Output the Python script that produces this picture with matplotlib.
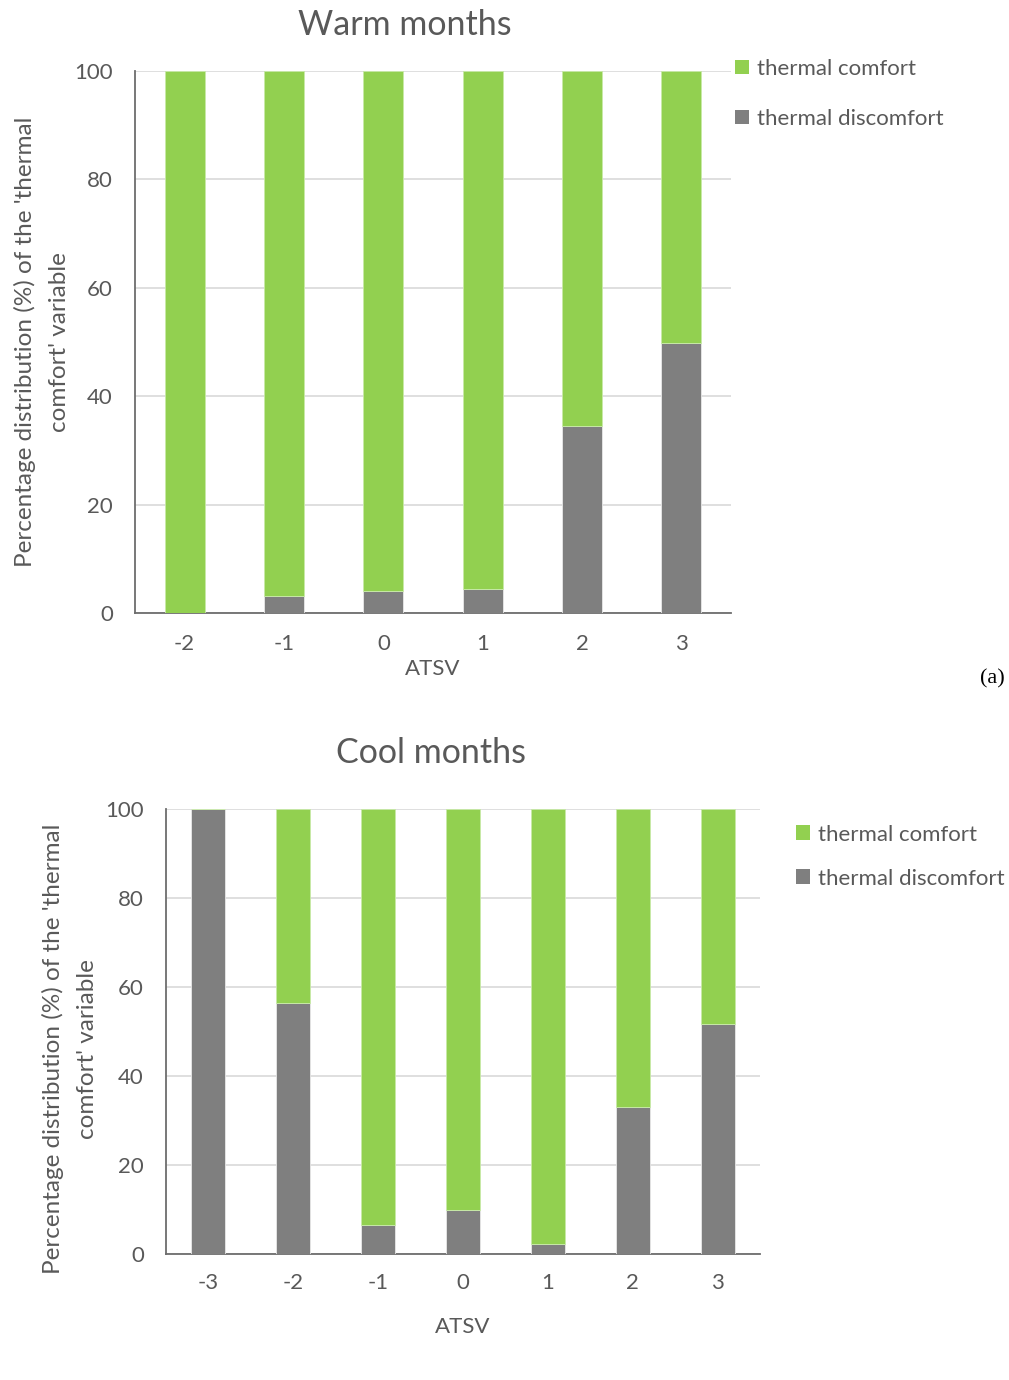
import matplotlib
matplotlib.use("Agg")
import matplotlib.pyplot as plt
from matplotlib.patches import Patch

plt.rcParams['font.family'] = ['Lato', 'DejaVu Sans']

GREEN = '#92D050'
GREY = '#7F7F7F'
TEXT = '#595959'
GRID = '#D9D9D9'

# Warm months
warm_atsv = ['-2', '-1', '0', '1', '2', '3']
warm_discomfort = [0.0, 3.1, 4.1, 4.4, 34.5, 49.8]
warm_comfort = [100 - v for v in warm_discomfort]

# Cool months
cool_atsv = ['-3', '-2', '-1', '0', '1', '2', '3']
cool_discomfort = [100.0, 56.4, 6.5, 9.9, 2.2, 33.0, 51.7]
cool_comfort = [100 - v for v in cool_discomfort]

ylabel = "Percentage distribution (%) of the 'thermal\ncomfort' variable"

fig = plt.figure(figsize=(10.09, 13.8), dpi=100)


def draw(ax, cats, disc, comf, title, title_x, title_pad, legend_anchor,
         legend_spacing, ylab_xy, xlab_y, xtick_pad):
    x = range(len(cats))
    ax.bar(x, disc, width=0.4, color=GREY, edgecolor='#e8e8e8', linewidth=0.6,
           label='thermal discomfort', zorder=3)
    ax.bar(x, comf, bottom=disc, width=0.4, color=GREEN, edgecolor='#c8eaa8',
           linewidth=0.6, label='thermal comfort', zorder=3)
    ax.set_xlim(-0.5, len(cats) - 0.5)
    ax.set_ylim(0, 100)
    ax.set_yticks([0, 20, 40, 60, 80, 100])
    ax.set_xticks(list(x))
    ax.set_xticklabels(cats)
    ax.yaxis.grid(True, color=GRID, linewidth=1.2, zorder=0)
    ax.set_axisbelow(True)
    for s in ['top', 'right']:
        ax.spines[s].set_visible(False)
    for s in ['left', 'bottom']:
        ax.spines[s].set_color('#6d6d6d')
        ax.spines[s].set_linewidth(1.3)
    ax.tick_params(axis='both', length=0, labelsize=16, colors=TEXT)
    ax.tick_params(axis='y', pad=16)
    ax.tick_params(axis='x', pad=xtick_pad)
    ax.set_title(title, fontsize=24.5, color=TEXT, pad=title_pad, x=title_x)
    ax.set_xlabel('ATSV', fontsize=16, color=TEXT)
    ax.xaxis.set_label_coords(0.5, xlab_y)
    ax.set_ylabel(ylabel, fontsize=17.5, color=TEXT, linespacing=1.75,
                  va='center', ha='center')
    ax.yaxis.set_label_coords(*ylab_xy)
    handles = [Patch(facecolor=GREEN, label='thermal comfort'),
               Patch(facecolor=GREY, label='thermal discomfort')]
    ax.legend(handles=handles, loc='upper left', bbox_to_anchor=legend_anchor,
              frameon=False, fontsize=16, labelcolor=TEXT, handlelength=0.65,
              handleheight=0.65, handletextpad=0.35,
              labelspacing=legend_spacing, borderaxespad=0)


ax1 = fig.add_axes([135 / 1009, 1 - 613 / 1380, 596 / 1009, 542 / 1380])
draw(ax1, warm_atsv, warm_discomfort, warm_comfort, 'Warm months', 0.452, 26,
     (0.991, 1.039), 1.35, (-0.156, 0.5), -0.085, 15)

ax2 = fig.add_axes([166 / 1009, 1 - 1254 / 1380, 594 / 1009, 445 / 1380])
draw(ax2, cool_atsv, cool_discomfort, cool_comfort, 'Cool months', 0.446, 33,
     (1.045, 0.985), 1.08, (-0.162, 0.46), -0.142, 14)

fig.text(992 / 1009, 1 - 679 / 1380, '(a)', family='Liberation Serif',
         fontsize=16, color='black', ha='center', va='center')

fig.savefig('out.png', dpi=100, facecolor='white')
